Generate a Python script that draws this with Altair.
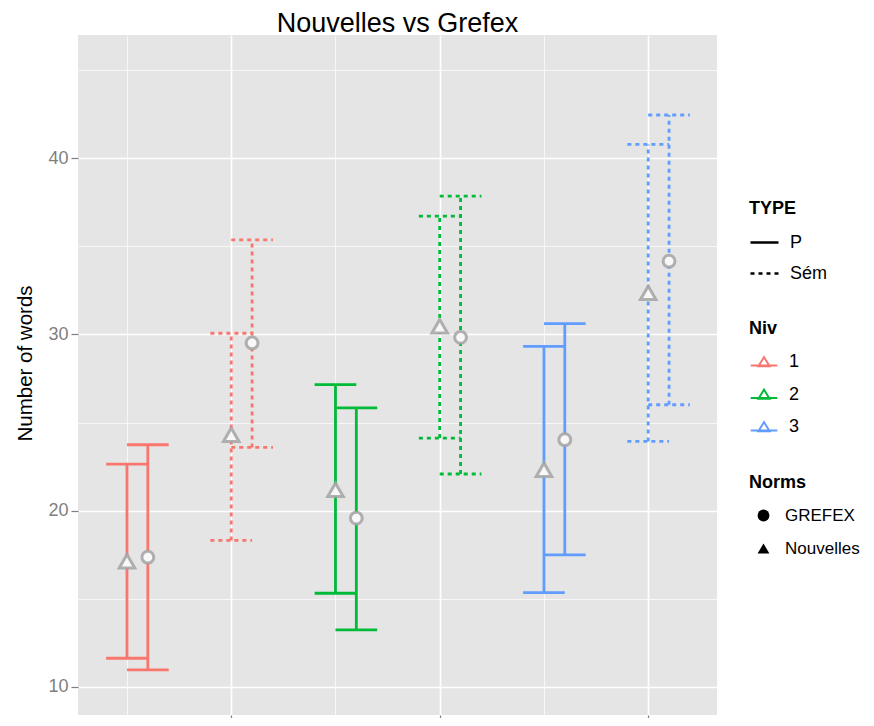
import altair as alt
import pandas as pd

# ---- data ----
niv = ["1", "1", "1", "1", "2", "2", "2", "2", "3", "3", "3", "3"]
type_ = ["P", "P", "Sém", "Sém", "P", "P", "Sém", "Sém", "P", "P", "Sém", "Sém"]
norms = ["Nouvelles", "GREFEX"] * 6
pos = [1, 1, 2, 2, 3, 3, 4, 4, 5, 5, 6, 6]
mean = [17.13, 17.36, 24.31, 29.52, 21.18, 19.58, 30.47, 29.84, 22.32, 24.03, 32.36, 34.16]
lower = [11.62, 10.96, 18.31, 23.59, 15.31, 13.23, 24.12, 22.08, 15.35, 17.49, 23.93, 26.01]
upper = [22.64, 23.74, 30.07, 35.37, 27.15, 25.83, 36.72, 37.85, 29.33, 30.62, 40.79, 42.46]

niv_levels = ["1", "2", "3"]
niv_colors = ["#F8766D", "#00BA38", "#619CFF"]
type_levels = ["P", "Sém"]
norms_levels = ["GREFEX", "Nouvelles"]
x_breaks = [1, 2, 3, 4, 5, 6]
y_breaks = [10, 15, 20, 25, 30, 35, 40, 45]

DODGE = 0.2
HALF = 0.2

df = pd.DataFrame({"Niv": niv, "TYPE": type_, "Norms": norms, "pos": pos,
                   "mean": mean, "lower": lower, "upper": upper})
df["x"] = df["pos"] + df["Norms"].map({"Nouvelles": 0.0, "GREFEX": DODGE})
df["xlo"] = df["x"] - HALF
df["xhi"] = df["x"] + HALF

FONT = "Liberation Sans"

x_axis = alt.Axis(values=x_breaks, labels=False, title=None, grid=True, gridColor="white",
                  gridWidth={"condition": {"test": "datum.value % 2 == 0", "value": 1.6}, "value": 0.7},
                  tickOpacity={"condition": {"test": "datum.value % 2 == 0", "value": 1}, "value": 0},
                  tickColor="#7F7F7F", tickSize=7, tickWidth=1.2, domain=False)
y_axis = alt.Axis(values=y_breaks, title="Number of words", grid=True, gridColor="white",
                  gridWidth={"condition": {"test": "datum.value % 10 == 0", "value": 1.6}, "value": 0.7},
                  tickOpacity={"condition": {"test": "datum.value % 10 == 0", "value": 1}, "value": 0},
                  labelExpr="datum.value % 10 == 0 ? datum.label : ''",
                  tickColor="#7F7F7F", tickSize=7, tickWidth=1.2, domain=False,
                  labelColor="#7F7F7F", labelFontSize=18, labelFont=FONT, labelPadding=3,
                  titleFont=FONT, titleFontSize=20.5, titleFontWeight="normal", titleColor="black",
                  titleAngle=-90, titleX=-53, titleY=328, titleAlign="center", titleBaseline="middle")

xs = alt.Scale(domain=[0.53, 6.66], nice=False, zero=False)
ys = alt.Scale(domain=[8.4, 47.0], nice=False, zero=False)
shape_scale = alt.Scale(domain=norms_levels, range=["circle", "triangle-up"])

color = alt.Color("Niv:N", scale=alt.Scale(domain=niv_levels, range=niv_colors),
                  legend=alt.Legend(title="Niv", orient="none", legendX=671, legendY=285,
                                    symbolType="M-0.95,0.25H0.95M-0.4,0.3L0,-0.35L0.4,0.3Z",
                                    symbolSize=784, symbolStrokeWidth=2, symbolFillColor="white",
                                    rowPadding=8.5, titlePadding=9, labelOffset=10, padding=0))
dash = alt.StrokeDash("TYPE:N", scale=alt.Scale(domain=type_levels, range=[[1, 0], [4, 4]]),
                      legend=alt.Legend(title="TYPE", orient="none", legendX=671, legendY=165,
                                        symbolType="stroke", symbolSize=784, symbolStrokeWidth=2.5,
                                        symbolStrokeColor="black",
                                        rowPadding=6, titlePadding=9, labelOffset=10, padding=0))

base = alt.Chart(df)

bars = base.mark_rule(strokeWidth=2.8).encode(
    x=alt.X("x:Q", scale=xs, axis=x_axis),
    y=alt.Y("lower:Q", scale=ys, axis=y_axis),
    y2="upper:Q",
    color=color,
    strokeDash=dash,
)

caps = base.transform_fold(["lower", "upper"], as_=["bound", "val"]).mark_rule(strokeWidth=2.8).encode(
    x=alt.X("xlo:Q", scale=xs, axis=x_axis),
    x2="xhi:Q",
    y=alt.Y("val:Q", scale=ys, axis=y_axis),
    color=color,
    strokeDash=dash,
)

# small black points (hidden under the white ones) that carry the "Norms" legend
legend_points = base.mark_point(filled=True, fill="black", stroke="black", opacity=1,
                                size=25, strokeWidth=0).encode(
    x=alt.X("x:Q", scale=xs, axis=x_axis),
    y=alt.Y("mean:Q", scale=ys, axis=y_axis),
    shape=alt.Shape("Norms:N", scale=shape_scale,
                    legend=alt.Legend(title="Norms", orient="none", legendX=671, legendY=439,
                                      symbolSize=140, symbolFillColor="black", symbolStrokeColor="black",
                                      symbolOpacity=1, symbolStrokeWidth=0, symbolOffset=6,
                                      labelFontSize=17, rowPadding=15, titlePadding=15,
                                      labelOffset=13, padding=0)),
)


def point_layer(level, shape_name, size):
    return base.transform_filter(alt.datum.Norms == level).mark_point(
        filled=True, shape=shape_name, size=size, fill="#F8F8F8", stroke="#A3A3A3",
        strokeWidth=3, strokeOpacity=0.85, opacity=1
    ).encode(
        x=alt.X("x:Q", scale=xs, axis=x_axis),
        y=alt.Y("mean:Q", scale=ys, axis=y_axis),
    )


circles = point_layer("GREFEX", "circle", 140)
triangles = point_layer("Nouvelles", "triangle-up", 240)

chart = alt.layer(bars, caps, legend_points, circles, triangles).properties(
    width=639, height=680,
    title=alt.TitleParams("Nouvelles vs Grefex", fontSize=27, font=FONT, fontWeight="normal",
                          color="black", anchor="middle", offset=5, dy=8),
    autosize=alt.AutoSizeParams(type="none"),
    padding={"left": 70, "top": 27, "right": 149, "bottom": 3},
).configure_view(fill="#E5E5E5", stroke=None).configure_legend(
    labelFont=FONT, labelFontSize=18, labelColor="black",
    titleFont=FONT, titleFontSize=18, titleFontWeight="bold", titleColor="black",
    titleBaseline="top", titleAnchor="start",
)

chart.save("out.html", embed_options={"renderer": "svg", "actions": False})
